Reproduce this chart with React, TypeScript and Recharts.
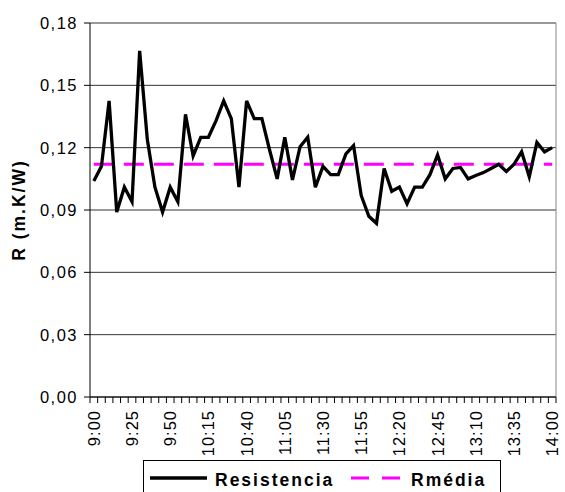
import React from 'react';
import { LineChart, Line, XAxis, YAxis, CartesianGrid, ReferenceLine } from 'recharts';

const TIMES = [
  '9:00', '9:05', '9:10', '9:15', '9:20', '9:25', '9:30', '9:35', '9:40', '9:45',
  '9:50', '9:55', '10:00', '10:05', '10:10', '10:15', '10:20', '10:25', '10:30', '10:35',
  '10:40', '10:45', '10:50', '10:55', '11:00', '11:05', '11:10', '11:15', '11:20', '11:25',
  '11:30', '11:35', '11:40', '11:45', '11:50', '11:55', '12:00', '12:05', '12:10', '12:15',
  '12:20', '12:25', '12:30', '12:35', '12:40', '12:45', '12:50', '12:55', '13:00', '13:05',
  '13:10', '13:15', '13:20', '13:25', '13:30', '13:35', '13:40', '13:45', '13:50', '13:55',
  '14:00',
];

const RESISTENCIA = [
  0.104, 0.111, 0.1425, 0.089, 0.101, 0.094, 0.1666, 0.124, 0.101, 0.089,
  0.101, 0.094, 0.136, 0.116, 0.125, 0.125, 0.133, 0.1425, 0.134, 0.101,
  0.1425, 0.134, 0.134, 0.119, 0.105, 0.125, 0.1045, 0.1205, 0.125, 0.101,
  0.111, 0.107, 0.107, 0.117, 0.121, 0.097, 0.087, 0.0836, 0.110, 0.099,
  0.101, 0.093, 0.101, 0.101, 0.107, 0.1165, 0.105, 0.110, 0.1105, 0.105,
  0.1066, 0.108, 0.110, 0.112, 0.1085, 0.112, 0.118, 0.106, 0.1225, 0.118,
  0.120,
];

const RMEDIA = 0.112;
const Y_TICKS = [0, 0.03, 0.06, 0.09, 0.12, 0.15, 0.18];
const Y_MAX = 0.18;
const LABEL_EVERY = 5;
const SERIES_NAMES = ['Resistencia', 'Rmédia'];
const Y_TITLE = 'R (m.K/W)';

const data = TIMES.map((t, i) => ({ idx: i, time: t, resistencia: RESISTENCIA[i], rmedia: RMEDIA }));
const labelTicks = TIMES.map((_, i) => i).filter((i) => i % LABEL_EVERY === 0);
const boundaries = Array.from({ length: TIMES.length + 1 }, (_, i) => i - 0.5);

const FONT = '"Liberation Sans", Arial, Helvetica, sans-serif';

const CHART_W = 565;
const CHART_H = 492;
const MARGIN = { top: 23, right: 9, bottom: 0, left: 0 };
const Y_AXIS_W = 90;
const X_AXIS_H = 95;
const PLOT_H = CHART_H - MARGIN.top - MARGIN.bottom - X_AXIS_H;
const TICK_LEN = 6;
// tick-mark length expressed in data units of the value axis
const TICK_DATA = (TICK_LEN / PLOT_H) * Y_MAX;

const XLabel = (props: any) => {
  const { x, y, payload } = props;
  return (
    <text
      x={x}
      y={y}
      transform={`rotate(-90 ${x} ${y})`}
      textAnchor="end"
      dominantBaseline="central"
      fontSize={16.5}
      letterSpacing={1}
      fill="#000"
      fontFamily={FONT}
    >
      {TIMES[payload.value]}
    </text>
  );
};

const YTitle = (props: any) => {
  const vb = props.viewBox || { x: 0, y: 0, width: 90, height: 374 };
  const cx = vb.x + 19;
  const cy = vb.y + vb.height / 2;
  return (
    <text
      x={cx}
      y={cy}
      transform={`rotate(-90 ${cx} ${cy})`}
      textAnchor="middle"
      dominantBaseline="central"
      fontSize={17.5}
      fontWeight="bold"
      letterSpacing={2}
      fill="#000"
      fontFamily={FONT}
    >
      {Y_TITLE}
    </text>
  );
};

const fmt = (v: number) => v.toFixed(2).replace('.', ',');

export default function App() {
  return (
    <div style={{ position: 'absolute', left: 0, top: 0, width: CHART_W, height: CHART_H, overflow: 'hidden', background: '#fff' }}>
      <LineChart width={CHART_W} height={CHART_H} data={data} margin={MARGIN}>
        <CartesianGrid horizontal vertical={false} stroke="#333" strokeWidth={1} />
        <XAxis
          dataKey="idx"
          type="number"
          domain={[-0.5, TIMES.length - 0.5]}
          ticks={labelTicks}
          interval={0}
          height={X_AXIS_H}
          tick={<XLabel />}
          tickSize={0}
          tickMargin={13}
          axisLine={{ stroke: '#000' }}
          tickLine={false}
          allowDataOverflow
        />
        <YAxis
          width={Y_AXIS_W}
          domain={[0, Y_MAX]}
          ticks={Y_TICKS}
          interval={0}
          tickFormatter={fmt}
          tickSize={6}
          tickMargin={6}
          axisLine={{ stroke: '#000' }}
          tickLine={{ stroke: '#000' }}
          tick={{ fill: '#000', fontSize: 16.5, fontFamily: FONT, letterSpacing: 1.5 }}
          label={<YTitle />}
          allowDataOverflow
        />
        {boundaries.map((b) => (
          <ReferenceLine
            key={`tick-${b}`}
            segment={[{ x: b, y: 0 }, { x: b, y: -TICK_DATA }]}
            stroke="#000"
            strokeWidth={1}
            ifOverflow="visible"
          />
        ))}
        <ReferenceLine x={TIMES.length - 0.5} stroke="#888" strokeWidth={1} />
        <Line
          dataKey="rmedia"
          name={SERIES_NAMES[1]}
          stroke="#FF00FF"
          strokeWidth={3}
          strokeDasharray="20 10"
          dot={false}
          activeDot={false}
          isAnimationActive={false}
        />
        <Line
          dataKey="resistencia"
          name={SERIES_NAMES[0]}
          stroke="#000"
          strokeWidth={3.3}
          dot={false}
          activeDot={false}
          isAnimationActive={false}
        />
      </LineChart>
      <div
        style={{
          position: 'absolute',
          left: 143,
          top: 460,
          width: 358,
          height: 44,
          border: '1px solid #000',
          boxSizing: 'border-box',
          background: '#fff',
        }}
      >
        <svg width={356} height={42} style={{ display: 'block' }}>
          <line x1={6} y1={17} x2={63} y2={17} stroke="#000" strokeWidth={3.3} />
          <text x={71} y={25} fontSize={17.5} fontWeight="bold" letterSpacing={2} fontFamily={FONT} fill="#000">
            {SERIES_NAMES[0]}
          </text>
          <line x1={207} y1={17} x2={258} y2={17} stroke="#FF00FF" strokeWidth={3} strokeDasharray="18 13" />
          <text x={267} y={25} fontSize={17.5} fontWeight="bold" letterSpacing={2} fontFamily={FONT} fill="#000">
            {SERIES_NAMES[1]}
          </text>
        </svg>
      </div>
    </div>
  );
}
